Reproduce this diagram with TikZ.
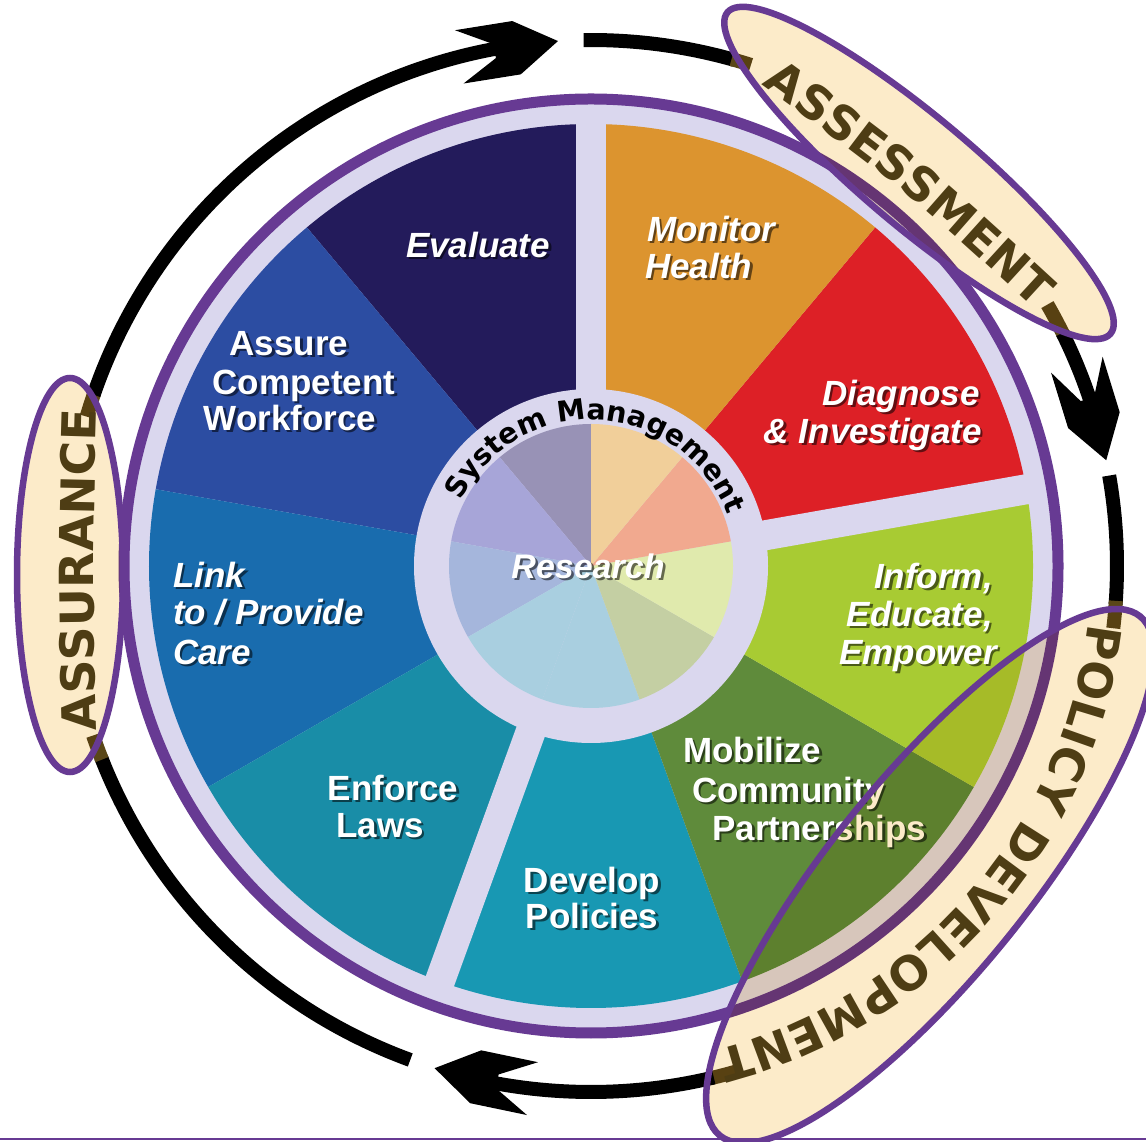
\documentclass[tikz,border=0pt]{standalone}
\usepackage{fontspec}
\setmainfont{Liberation Sans}
\newfontfamily\heavyfont{DejaVu Sans}
\usetikzlibrary{decorations.text}
\definecolor{purp}{HTML}{673A93}
\definecolor{lav}{HTML}{DAD7EE}
\definecolor{beige}{HTML}{FCEBC9}
\definecolor{labbrown}{HTML}{4E3D14}
\definecolor{markbrown}{HTML}{5A4718}
\definecolor{cEval}{HTML}{231B5B}
\definecolor{cAssure}{HTML}{2C4DA2}
\definecolor{cLink}{HTML}{196CAE}
\definecolor{cEnforce}{HTML}{198DA7}
\definecolor{cDevelop}{HTML}{1898B3}
\definecolor{cMobil}{HTML}{5F8B3B}
\definecolor{cInform}{HTML}{A8CB33}
\definecolor{cDiag}{HTML}{DD2026}
\definecolor{cMonitor}{HTML}{DC942F}
\definecolor{iEval}{HTML}{9892B6}
\definecolor{iAssure}{HTML}{A7A5D8}
\definecolor{iLink}{HTML}{A5B6DC}
\definecolor{iTeal}{HTML}{A9CFE0}
\definecolor{iMobil}{HTML}{C4CFA3}
\definecolor{iInform}{HTML}{E0EAAD}
\definecolor{iDiag}{HTML}{F1A98F}
\definecolor{iMonitor}{HTML}{F1CF9A}
\newcommand\lblfont{\fontsize{35}{38}\selectfont\bfseries}
\newcommand\elfont{\heavyfont\fontsize{47}{47}\selectfont\bfseries\color{labbrown}}
\newcommand\sysfont{\heavyfont\fontsize{28.5}{28.5}\selectfont\bfseries\color{black}}
\tikzset{
  lbl/.style={text=white, inner sep=0pt},
  lbls/.style={text=black, text opacity=0.55, inner sep=0pt},
  ringseg/.style={line width=14pt, black},
  ringmark/.style={line width=14pt, markbrown},
  ellout/.style={draw=purp, line width=6.5pt},
}
\newcommand\arrowtip[1]{\fill[black, rotate=#1, shift={(526,0)}, rotate=-84.5]
  (0,0) -- (-42,27) -- (-100,27) -- (-64,7) -- (-64,-7) -- (-100,-27) -- (-42,-27) -- cycle;}
\newcommand\wl[6]{%
  \node[lbls, anchor=#4, font=\lblfont#5] (#1-s) at (#2+2.5, 1126-#3) {#6};
  \node[lbl, anchor=#4, font=\lblfont#5] (#1) at (#2, 1128.5-#3) {#6};}
\begin{document}
\begin{tikzpicture}[x=1pt,y=1pt]
\useasboundingbox (0,0) rectangle (1146,1141);
\fill[white] (0,0) rectangle (1146,1141);
\coordinate (O) at (591,575);
% wheel
\begin{scope}[shift={(O)}]
  \fill[lav] (0,0) circle[radius=463];
  \foreach \a/\c in {90/cEval,130/cAssure,170/cLink,210/cEnforce,250/cDevelop,290/cMobil,330/cInform,370/cDiag,410/cMonitor}
    \fill[\c] (0,0) -- (\a:442) arc[start angle=\a, end angle=\a+40, radius=442] -- cycle;
  \foreach \a in {90,10,-110}
    \draw[lav, line width=30pt] (\a:160) -- (\a:456);
  \fill[lav] (0,0) circle[radius=177];
  \foreach \a/\c in {90/iEval,130/iAssure,170/iLink,210/iTeal,250/iTeal,290/iMobil,330/iInform,370/iDiag,410/iMonitor}
    \fill[\c] (0,0) -- (\a:142) arc[start angle=\a, end angle=\a+40, radius=142] -- cycle;
  \draw[purp, line width=11pt] (0,0) circle[radius=467];
\end{scope}
% wedge labels
\wl{ev}{478}{245}{base}{\itshape}{Evaluate}
\wl{as1}{289}{343}{base}{}{Assure}
\wl{as2}{304}{382}{base}{}{Competent}
\wl{as3}{290}{418}{base}{}{Workforce}
\wl{li1}{173}{575}{base west}{\itshape}{Link}
\wl{li2}{173}{612}{base west}{\itshape}{to / Provide}
\wl{li3}{173}{652}{base west}{\itshape}{Care}
\wl{en1}{393}{788}{base}{}{Enforce}
\wl{en2}{380}{825}{base}{}{Laws}
\wl{de1}{592}{880}{base}{}{Develop}
\wl{de2}{592}{916}{base}{}{Policies}
\wl{mo1}{683}{750}{base west}{}{Mobilize}
\wl{mo2}{692}{790}{base west}{}{Community}
\wl{mo3}{712}{828}{base west}{}{Partnerships}
\wl{in1}{993}{576}{base east}{\itshape}{Inform,}
\wl{in2}{993}{614}{base east}{\itshape}{Educate,}
\wl{in3}{997}{652}{base east}{\itshape}{Empower}
\wl{mh1}{647}{229}{base west}{\itshape}{Monitor}
\wl{mh2}{645}{266}{base west}{\itshape}{Health}
\wl{di1}{980}{393}{base east}{\itshape}{Diagnose}
\wl{di2}{982}{431}{base east}{\itshape}{\& Investigate}
\wl{re}{588}{566}{base}{\itshape\fontsize{34}{38}\selectfont}{Research}
\path[shift={(O)}, decorate, decoration={text along path, text align=center,
  text={|\sysfont|System Management}}] (162:146) arc[start angle=162, end angle=12, radius=146];
% outer cycle ring
\begin{scope}[shift={(O)}]
  \draw[ringmark] (163.5:526) arc[start angle=163.5, end angle=160.8, radius=526];
  \draw[ringseg] (161:526) arc[start angle=161, end angle=100.1, radius=526];
  \arrowtip{93.6}
  \draw[ringseg] (90.8:526) arc[start angle=90.8, end angle=74.2, radius=526];
  \draw[ringmark] (74.5:526) arc[start angle=74.5, end angle=72.3, radius=526];
  \draw[ringmark] (29.8:526) arc[start angle=29.8, end angle=26, radius=526];
  \draw[ringseg] (26.3:526) arc[start angle=26.3, end angle=18.1, radius=526];
  \arrowtip{11.6}
  \draw[ringseg] (9.9:526) arc[start angle=9.9, end angle=-4.2, radius=526];
  \draw[ringmark] (-3.8:526) arc[start angle=-3.8, end angle=-6.8, radius=526];
  \draw[ringmark] (-73.8:526) arc[start angle=-73.8, end angle=-76.8, radius=526];
  \draw[ringseg] (-76.5:526) arc[start angle=-76.5, end angle=-100.8, radius=526];
  \arrowtip{-107.3}
  \draw[ringseg] (-110.1:526) arc[start angle=-110.1, end angle=-158.7, radius=526];
  \draw[ringmark] (-158.4:526) arc[start angle=-158.4, end angle=-161.2, radius=526];
\end{scope}
% label ellipses
\begin{scope}[blend mode=multiply]
  \fill[beige, rotate around={-40:(919,968)}] (919,968) ellipse[x radius=250, y radius=55];
  \fill[beige, rotate around={51:(930,265)}] (930,265) ellipse[x radius=334, y radius=99];
  \fill[beige] (70,566) ellipse[x radius=53, y radius=197];
\end{scope}
\draw[ellout, rotate around={-40:(919,968)}] (919,968) ellipse[x radius=250, y radius=55];
\draw[ellout, rotate around={51:(930,265)}] (930,265) ellipse[x radius=334, y radius=99];
\draw[ellout] (70,566) ellipse[x radius=53, y radius=197];
\path[decorate, decoration={text along path, text align=center,
  text={|\elfont|ASSESSMENT}}] (740,1072) .. controls (905,952) .. (1055,814);
\path[decorate, decoration={text along path, text align=center,
  text={|\elfont|ASSURANCE}}] (98,371) .. controls (92,571) .. (98,771);
\path[shift={(O)}, decorate, decoration={text along path, text align=center,
  text={|\elfont|POLICY DEVELOPMENT}}] (-1:500) arc[start angle=-1, end angle=-81, radius=500];
\draw[purp, line width=2.5pt] (0,2) -- (1146,2);
\end{tikzpicture}
\end{document}
